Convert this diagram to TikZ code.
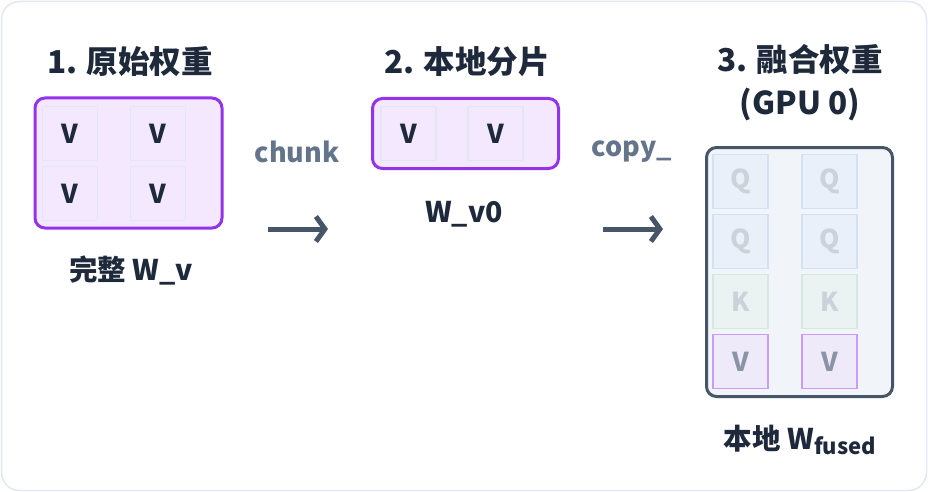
\documentclass[tikz,border=0pt]{standalone}
\usepackage{fontspec}
\setmainfont{Noto Sans CJK SC}
\usetikzlibrary{arrows.meta}
\definecolor{ink}{HTML}{1E293B}
\definecolor{slate}{HTML}{64748B}
\definecolor{arrowc}{HTML}{475569}
\definecolor{outer}{HTML}{E2E8F0}
\definecolor{purp}{HTML}{9333EA}
\definecolor{purpfill}{HTML}{F3E8FF}
\definecolor{cellline}{HTML}{E2E8F0}
\definecolor{fusedfill}{HTML}{F1F5F9}
\definecolor{fusedline}{HTML}{475569}
\definecolor{qline}{HTML}{D3E1F7}
\definecolor{qfill}{HTML}{EAF0F9}
\definecolor{kline}{HTML}{D5E8DF}
\definecolor{kfill}{HTML}{EAF2F2}
\definecolor{vline}{HTML}{C99CF6}
\definecolor{vfill}{HTML}{EFEAFA}
\definecolor{fadetext}{HTML}{CDD2DA}
\definecolor{vtext}{HTML}{8A94A6}
\begin{document}
\begin{tikzpicture}[x=1pt,y=-1pt,
  title/.style={font=\fontsize{31.5}{43}\selectfont\bfseries, text=ink, align=center, inner sep=0},
  caption/.style={font=\fontsize{28.5}{32}\selectfont\bfseries, text=ink, inner sep=0},
  oplabel/.style={font=\fontsize{27}{30}\selectfont\bfseries, text=slate, inner sep=0},
  group/.style={draw=purp, line width=3pt, fill=purpfill, rounded corners=10pt, inner sep=0},
  fusedbox/.style={draw=fusedline, line width=3pt, fill=fusedfill, rounded corners=10pt, inner sep=0},
  cell/.style={draw=cellline, line width=1.5pt, fill=purpfill, minimum width=55pt, minimum height=54pt, inner sep=0, font=\fontsize{26}{28}\selectfont\bfseries, text=ink},
  qcell/.style={cell, draw=qline, fill=qfill, text=fadetext},
  kcell/.style={cell, draw=kline, fill=kfill, text=fadetext},
  vcell/.style={cell, draw=vline, fill=vfill, text=vtext},
  flow/.style={draw=arrowc, line width=5pt, -{Straight Barb[length=9pt, width=25pt]}}
]
\useasboundingbox (0,0) rectangle (928,492);
\draw[outer, line width=1.5pt, fill=white, rounded corners=18pt] (1.5,1.5) rectangle (926.5,490.5);

% panel 1
\node[title] (t1) at (130,62) {1. 原始权重};
\node[group, minimum width=187pt, minimum height=130pt] (g1) at (128.5,163) {};
\node[cell] (a11) at (70,133.5) {V};
\node[cell] (a12) at (158,133.5) {V};
\node[cell] (a21) at (70,193.5) {V};
\node[cell] (a22) at (158,193.5) {V};
\node[caption] (c1) at (131,270) {完整 W\_v};

% arrow 1
\node[oplabel] (op1) at (297,152) {chunk};
\coordinate (s1) at (268,229);
\coordinate (e1) at (328,229);
\draw[flow] (s1) -- (e1);

% panel 2
\node[title] (t2) at (467,62) {2. 本地分片};
\node[group, minimum width=186pt, minimum height=70pt] (g2) at (465.5,133.5) {};
\node[cell] (b1) at (408.5,133.5) {V};
\node[cell] (b2) at (495.5,133.5) {V};
\node[caption] (c2) at (464,214) {W\_v0};

% arrow 2
\node[oplabel] (op2) at (632,152) {copy\_};
\coordinate (s2) at (603,229);
\coordinate (e2) at (663,229);
\draw[flow] (s2) -- (e2);

% panel 3
\node[title] (t3) at (800,83) {3. 融合权重\\(GPU 0)};
\node[fusedbox, minimum width=186pt, minimum height=249pt] (g3) at (799.5,272) {};
\node[qcell] (f11) at (740.5,181.5) {Q};
\node[qcell] (f12) at (829.5,181.5) {Q};
\node[qcell] (f21) at (740.5,241.5) {Q};
\node[qcell] (f22) at (829.5,241.5) {Q};
\node[kcell] (f31) at (740.5,301.5) {K};
\node[kcell] (f32) at (829.5,301.5) {K};
\node[vcell] (f41) at (740.5,361.5) {V};
\node[vcell] (f42) at (829.5,361.5) {V};
\node[caption] (c3) at (800,440) {本地 W\raisebox{-5pt}{\fontsize{22}{24}\selectfont fused}};
\end{tikzpicture}
\end{document}
